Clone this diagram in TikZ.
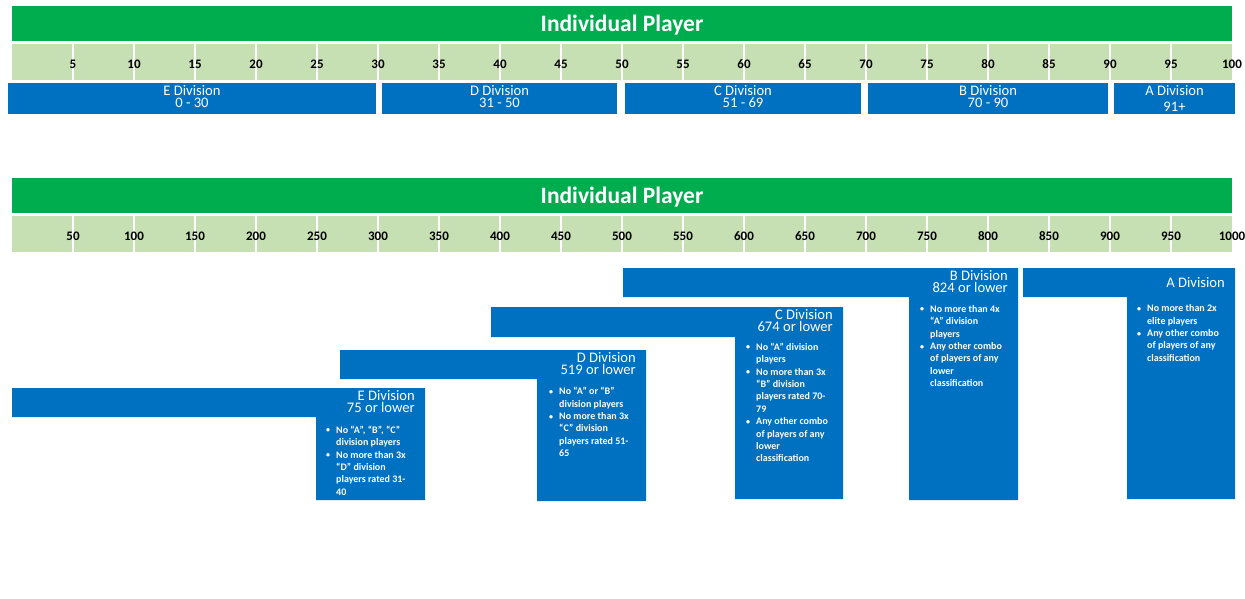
\documentclass[tikz,border=0pt]{standalone}
\usepackage{fontspec}
\setmainfont{Carlito}
\definecolor{bandgreen}{HTML}{00AD4E}
\definecolor{lightgreen}{HTML}{C6E0B4}
\definecolor{divblue}{HTML}{0070C0}
\tikzset{
  title/.style={text=white,font=\fontsize{23.5}{26}\selectfont\bfseries,inner sep=0pt,anchor=base},
  tick/.style={text=black,font=\fontsize{13}{15}\selectfont\bfseries,inner sep=0pt,anchor=base},
  divtxt/.style={text=white,font=\fontsize{14.6}{11.8}\selectfont,inner sep=0pt,anchor=north,align=center},
  divtxtr/.style={text=white,font=\fontsize{14.6}{12}\selectfont,inner sep=0pt,anchor=north east,align=right},
  rules/.style={text=white,font=\fontsize{10}{12.4}\selectfont\bfseries,inner sep=0pt,anchor=north west,align=left},
}
\newcommand{\bul}{\makebox[10pt][l]{\raisebox{0.3pt}{\scalebox{0.8}{•}}}}
\newcommand{\ind}{\hspace*{10pt}}
\newcommand{\fl}{\rule{0pt}{8pt}}
\newcommand{\tl}{\rule{0pt}{10pt}}
\begin{document}
\begin{tikzpicture}[x=1pt,y=-1pt]
\useasboundingbox (0,0) rectangle (1245,598);
% ---------- top scale ----------
\fill[bandgreen] (12,6) rectangle (1232,41);
\node[title] (t1) at (622,31.3) {Individual Player};
\fill[lightgreen] (12,44) rectangle (1232,80);
\foreach \k in {1,...,19} {\draw[white,line width=1.5pt] ({12+61*\k},44) -- ({12+61*\k},80);}
\foreach \k [evaluate=\k as \v using int(5*\k)] in {1,...,20} {
  \node[tick] (a\k) at ({12+61*\k},68.7) {\v};
}
\fill[divblue] (8,83) rectangle (376,114);
\fill[divblue] (382,83) rectangle (617,114);
\fill[divblue] (625,83) rectangle (861,114);
\fill[divblue] (868,83) rectangle (1108,114);
\fill[divblue] (1114,83) rectangle (1235,114);
\node[divtxt] (te) at (192,85) {\tl E Division\\0 - 30};
\node[divtxt] (td) at (499.5,85) {\tl D Division\\31 - 50};
\node[divtxt] (tc) at (743,85) {\tl C Division\\51 - 69};
\node[divtxt] (tb) at (988,85) {\tl B Division\\70 - 90};
\node[divtxt] (ta) at (1174.5,85) {\tl A Division\\[4.7pt]91+};
% ---------- bottom scale ----------
\fill[bandgreen] (12,178) rectangle (1232,213);
\node[title] (t2) at (622,203.3) {Individual Player};
\fill[lightgreen] (12,216) rectangle (1232,252);
\foreach \k in {1,...,19} {\draw[white,line width=1.5pt] ({12+61*\k},216) -- ({12+61*\k},252);}
\foreach \k [evaluate=\k as \v using int(50*\k)] in {1,...,20} {
  \node[tick] (b\k) at ({12+61*\k},240.7) {\v};
}
% ---------- L-shaped division blocks ----------
% E
\fill[divblue] (12,388) -- (425,388) -- (425,500) -- (316,500) -- (316,417) -- (12,417) -- cycle;
\node[divtxtr] (e) at (415,390.7) {\tl E Division\\75 or lower};
\node[rules] (er) at (326,425) {\fl\bul No “A”, “B”, “C”\\\ind division players\\\bul No more than 3x\\\ind “D” division\\\ind players rated 31-\\\ind 40};
% D
\fill[divblue] (340,350) -- (646,350) -- (646,501) -- (537,501) -- (537,379) -- (340,379) -- cycle;
\node[divtxtr] (d) at (636,352.3) {\tl D Division\\519 or lower};
\node[rules] (dr) at (549,386.5) {\fl\bul No “A” or “B”\\\ind division players\\\bul No more than 3x\\\ind “C” division\\\ind players rated 51-\\\ind 65};
% C
\fill[divblue] (491,307) -- (843,307) -- (843,499) -- (735,499) -- (735,337) -- (491,337) -- cycle;
\node[divtxtr] (c) at (833,309) {\tl C Division\\674 or lower};
\node[rules] (cr) at (746,342) {\fl\bul No “A” division\\\ind players\\\bul No more than 3x\\\ind “B” division\\\ind players rated 70-\\\ind 79\\\bul Any other combo\\\ind of players of any\\\ind lower\\\ind classification};
% B
\fill[divblue] (623,268) -- (1018,268) -- (1018,500) -- (909,500) -- (909,297) -- (623,297) -- cycle;
\node[divtxtr] (b) at (1008,270.3) {\tl B Division\\824 or lower};
\node[rules] (br) at (920,304) {\fl\bul No more than 4x\\\ind “A” division\\\ind players\\\bul Any other combo\\\ind of players of any\\\ind lower\\\ind classification};
% A
\fill[divblue] (1023,268) -- (1235,268) -- (1235,499) -- (1127,499) -- (1127,297) -- (1023,297) -- cycle;
\node[divtxtr] (a) at (1225,277.7) {\tl A Division};
\node[rules] (ar) at (1137,303.5) {\fl\bul No more than 2x\\\ind elite players\\\bul Any other combo\\\ind of players of any\\\ind classification};
\end{tikzpicture}
\end{document}
